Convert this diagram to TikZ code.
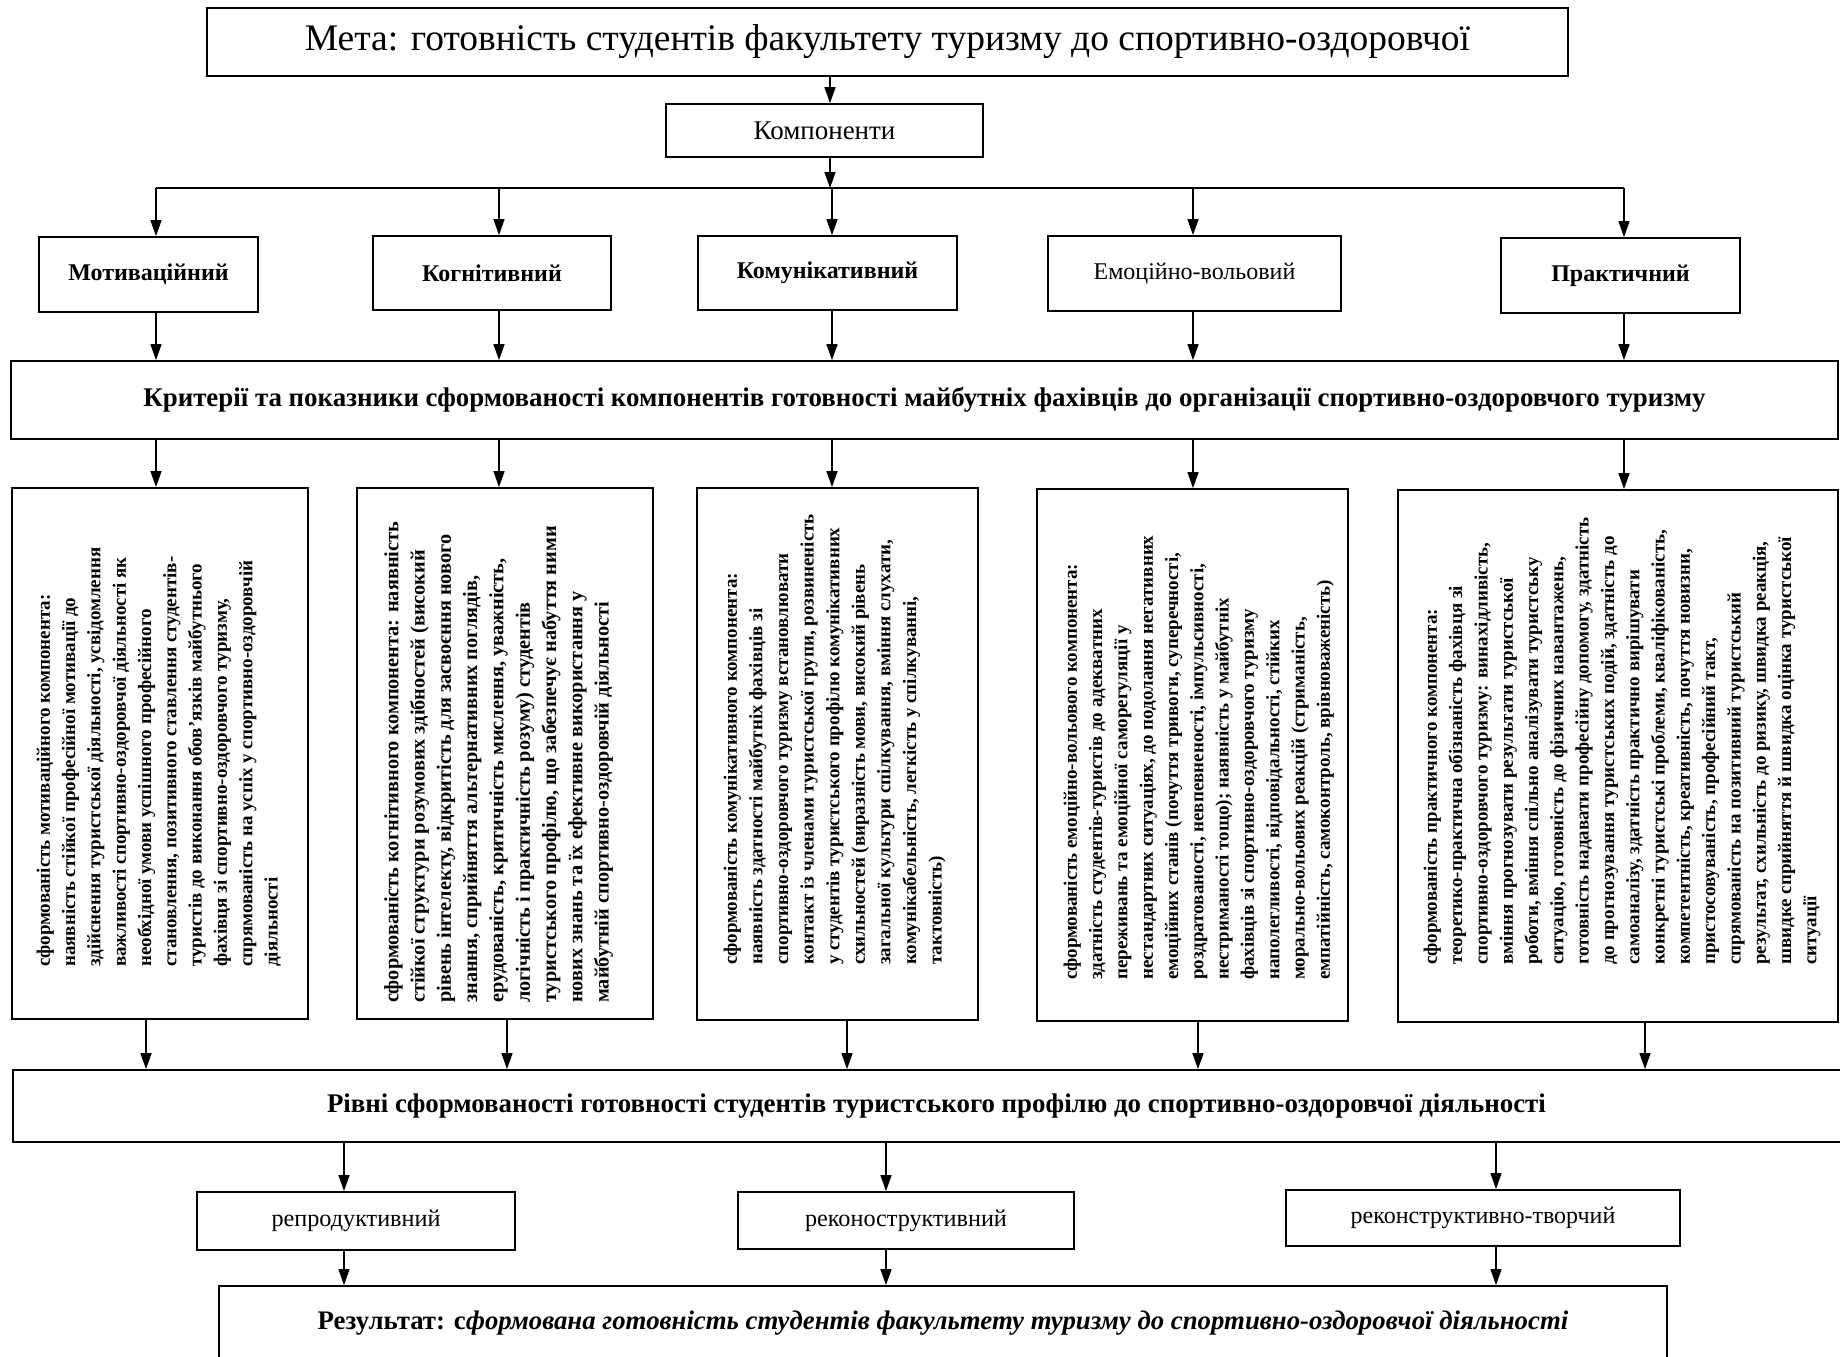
\documentclass[tikz,border=0pt]{standalone}
\usepackage{fontspec}
\setmainfont{Liberation Serif}
\usetikzlibrary{arrows.meta}
\newcommand\myfs[2]{\fontsize{#1}{#2}\selectfont}
\tikzset{
  box/.style={draw, line width=1.8pt, inner sep=0pt, align=center},
  arr/.style={-{Triangle[width=11pt,length=16pt]}, line width=1.5pt},
  ln/.style={line width=1.5pt},
  vtext/.style={rotate=90, anchor=north west, align=left, inner sep=0pt},
}
\begin{document}
\begin{tikzpicture}[x=1pt,y=-1pt]
\useasboundingbox[fill=white] (0,0) rectangle (1840,1357);

% top
\node[box, minimum width=1361pt, minimum height=68pt, font=\myfs{37.5}{42}] (meta) at (887.5,42) {Мета: готовність студентів факультету туризму до спортивно-оздоровчої};
\node[box, minimum width=317pt, minimum height=53pt, font=\myfs{27}{30}] (komp) at (824.5,130.5) {Компоненти};

\coordinate (hmid) at (830,188);
\coordinate (h1) at (156,188);
\coordinate (h2) at (499,188);
\coordinate (h3) at (832,188);
\coordinate (h4) at (1193,188);
\coordinate (h5) at (1624,188);

\draw[arr] (hmid |- meta.south) -- (hmid |- komp.north);
\draw[arr] (hmid |- komp.south) -- (hmid);
\draw[ln] (h1) -- (h5);

% components
\node[box, minimum width=219pt, minimum height=75pt, font=\bfseries\myfs{24}{28}] (mot) at (148.5,274.5) {Мотиваційний};
\node[box, minimum width=238pt, minimum height=74pt, font=\bfseries\myfs{24}{28}] (cog) at (492,273) {Когнітивний};
\node[box, minimum width=259pt, minimum height=74pt, font=\bfseries\myfs{24}{28}] (kom) at (827.5,273) {Комунікативний};
\node[box, minimum width=293pt, minimum height=75pt, font=\myfs{24}{28}] (emo) at (1194.5,273.5) {Емоційно-вольовий};
\node[box, minimum width=239pt, minimum height=75pt, font=\bfseries\myfs{24}{28}] (pra) at (1620.5,275.5) {Практичний};

\node[box, minimum width=1827pt, minimum height=78pt, font=\bfseries\myfs{26.9}{30}] (crit) at (924.5,400) {Критерії та показники сформованості компонентів готовності майбутніх фахівців до організації спортивно-оздоровчого туризму};

\foreach \h/\b in {h1/mot,h2/cog,h3/kom,h4/emo,h5/pra}{
  \draw[arr] (\h) -- (\h |- \b.north);
  \draw[arr] (\h |- \b.south) -- (\h |- crit.north);
}

% indicator boxes
\node[box, minimum width=296pt, minimum height=531pt] (t1) at (160,753.5) {};
\node[box, minimum width=296pt, minimum height=531pt] (t2) at (505,753.5) {};
\node[box, minimum width=281pt, minimum height=532pt] (t3) at (837.5,754) {};
\node[box, minimum width=311pt, minimum height=532pt] (t4) at (1192.5,755) {};
\node[box, minimum width=440pt, minimum height=532pt] (t5) at (1618,756) {};

\foreach \h/\b in {h1/t1,h2/t2,h3/t3,h4/t4,h5/t5}{
  \draw[arr] (\h |- crit.south) -- (\h |- \b.north);
}

\node[vtext, font=\bfseries\myfs{19}{25.3}] (x1) at (36.5,967) {сформованість мотиваційного компонента:\\
наявність стійкої професійної мотивації до\\
здійснення туристської діяльності, усвідомлення\\
важливості спортивно-оздоровчої діяльності як\\
необхідної умови успішного професійного\\
становлення, позитивного ставлення студентів-\\
туристів до виконання обов’язків майбутнього\\
фахівця зі спортивно-оздоровчого туризму,\\
спрямованість на успіх у спортивно-оздоровчій\\
діяльності};

\node[vtext, font=\bfseries\myfs{20.3}{26.3}] (x2) at (384,1003) {сформованість когнітивного компонента: наявність\\
стійкої структури розумових здібностей (високий\\
рівень інтелекту, відкритість для засвоєння нового\\
знання, сприйняття альтернативних поглядів,\\
ерудованість, критичність мислення, уважність,\\
логічність і практичність розуму) студентів\\
туристського профілю, що забезпечує набуття ними\\
нових знань та їх ефективне використання у\\
майбутній спортивно-оздоровчій діяльності};

\node[vtext, font=\bfseries\myfs{19}{25.6}] (x3) at (723.5,965) {сформованість комунікативного компонента:\\
наявність здатності майбутніх фахівців зі\\
спортивно-оздоровчого туризму встановлювати\\
контакт із членами туристської групи, розвиненість\\
у студентів туристського профілю комунікативних\\
схильностей (виразність мови, високий рівень\\
загальної культури спілкування, вміння слухати,\\
комунікабельність, легкість у спілкуванні,\\
тактовність)};

\node[vtext, font=\bfseries\myfs{19}{25.3}] (x4) at (1063.5,980) {сформованість емоційно-вольового компонента:\\
здатність студентів-туристів до адекватних\\
переживань та емоційної саморегуляції у\\
нестандартних ситуаціях, до подолання негативних\\
емоційних станів (почуття тривоги, суперечності,\\
роздратованості, невпевненості, імпульсивності,\\
нестриманості тощо); наявність у майбутніх\\
фахівців зі спортивно-оздоровчого туризму\\
наполегливості, відповідальності, стійких\\
морально-вольових реакцій (стриманість,\\
емпатійність, самоконтроль, врівноваженість)};

\node[vtext, font=\bfseries\myfs{19}{25.3}] (x5) at (1423.5,965) {сформованість практичного компонента:\\
теоретико-практична обізнаність фахівця зі\\
спортивно-оздоровчого туризму: винахідливість,\\
вміння прогнозувати результати туристської\\
роботи, вміння спільно аналізувати туристську\\
ситуацію, готовність до фізичних навантажень,\\
готовність надавати професійну допомогу, здатність\\
до прогнозування туристських подій, здатність до\\
самоаналізу, здатність практично вирішувати\\
конкретні туристські проблеми, кваліфікованість,\\
компетентність, креативність, почуття новизни,\\
пристосовуваність, професійний такт,\\
спрямованість на позитивний туристський\\
результат, схильність до ризику, швидка реакція,\\
швидке сприйняття й швидка оцінка туристської\\
ситуації};

% levels
\node[box, minimum width=1847pt, minimum height=72pt, font=\bfseries\myfs{26.9}{30}] (rivni) at (936.5,1106) {Рівні сформованості готовності студентів туристського профілю до спортивно-оздоровчої діяльності};

\coordinate (b1) at (146,1106);
\coordinate (b2) at (507,1106);
\coordinate (b3) at (847,1106);
\coordinate (b4) at (1198,1106);
\coordinate (b5) at (1645,1106);
\foreach \h/\b in {b1/t1,b2/t2,b3/t3,b4/t4,b5/t5}{
  \draw[arr] (\h |- \b.south) -- (\h |- rivni.north);
}

\node[box, minimum width=318pt, minimum height=58pt, font=\myfs{24.2}{28}] (rep) at (356,1221) {репродуктивний};
\node[box, minimum width=336pt, minimum height=57pt, font=\myfs{24.2}{28}] (rec) at (906,1220.5) {реконоструктивний};
\node[box, minimum width=394pt, minimum height=56pt, font=\myfs{24}{28}] (rct) at (1483,1218) {реконструктивно-творчий};

\node[box, minimum width=1448pt, minimum height=74pt, font=\bfseries\myfs{26.8}{30}] (res) at (943,1323) {Результат: с\textit{формована готовність студентів факультету туризму до спортивно-оздоровчої діяльності}};

\coordinate (c1) at (344,1160);
\coordinate (c2) at (886,1160);
\coordinate (c3) at (1496,1160);
\foreach \h/\b in {c1/rep,c2/rec,c3/rct}{
  \draw[arr] (\h |- rivni.south) -- (\h |- \b.north);
  \draw[arr] (\h |- \b.south) -- (\h |- res.north);
}
\end{tikzpicture}
\end{document}
